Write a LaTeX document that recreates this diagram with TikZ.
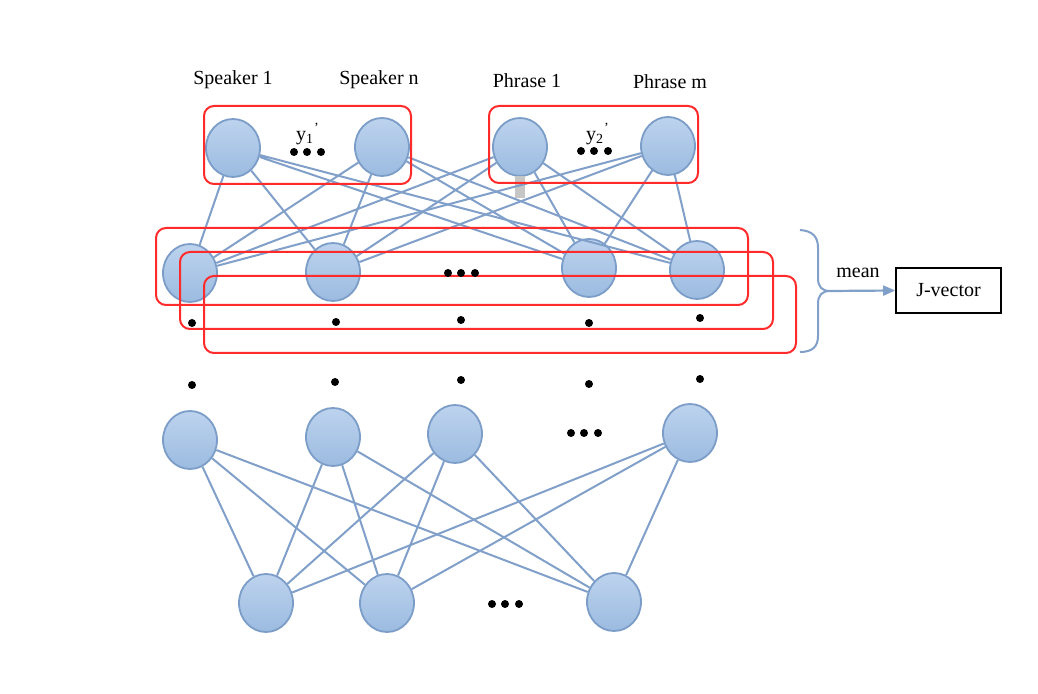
\documentclass[tikz,border=0pt]{standalone}
\usepackage{fontspec}
\setmainfont{Liberation Serif}
\usetikzlibrary{shapes.geometric,arrows.meta}
\definecolor{nodetop}{HTML}{BDD3EE}
\definecolor{nodebot}{HTML}{9BBBE0}
\definecolor{nodeline}{HTML}{7B9DC8}
\definecolor{linkblue}{HTML}{809FC9}
\definecolor{boxred}{HTML}{FF2A2A}

\begin{document}
\begin{tikzpicture}[x=0.5pt,y=-0.5pt,
  unit/.style={ellipse, draw=nodeline, line width=0.9pt, top color=nodetop, bottom color=nodebot, minimum width=27pt, minimum height=29pt, inner sep=0pt},
  link/.style={draw=linkblue, line width=1pt},
  group/.style={draw=boxred, line width=1pt, rounded corners=5pt},
  label/.style={font=\fontsize{10}{12}\selectfont, inner sep=1pt}]
\useasboundingbox (0,0) rectangle (1038,694);

% top layer
\node [unit] (S1) at (233,148) {};
\node [unit] (Sn) at (382,147) {};
\node [unit] (P1) at (520,147) {};
\node [unit] (Pm) at (668,146) {};

% hidden layer
\node [unit] (H1) at (190,273) {};
\node [unit] (H2) at (333,272) {};
\node [unit] (H3) at (589,268) {};
\node [unit] (H4) at (697,270) {};

% lower layers
\node [unit] (B1) at (190,440) {};
\node [unit] (B2) at (333,437) {};
\node [unit] (B3) at (455,434) {};
\node [unit] (B4) at (690,433) {};
\node [unit] (L1) at (266,603) {};
\node [unit] (L2) at (387,603) {};
\node [unit] (L3) at (614,602) {};

\fill [gray!45] (515,176) rectangle (525,198);

\draw [link] (S1)--(H1) (S1)--(H2) (S1)--(H3) (S1)--(H4);
\draw [link] (Sn)--(H1) (Sn)--(H2) (Sn)--(H3) (Sn)--(H4);
\draw [link] (P1)--(H1) (P1)--(H2) (P1)--(H3) (P1)--(H4);
\draw [link] (Pm)--(H1) (Pm)--(H2) (Pm)--(H3) (Pm)--(H4);
\draw [link] (B1)--(L1) (B1)--(L2) (B1)--(L3);
\draw [link] (B2)--(L1) (B2)--(L2) (B2)--(L3);
\draw [link] (B3)--(L1) (B3)--(L2) (B3)--(L3);
\draw [link] (B4)--(L1) (B4)--(L2) (B4)--(L3);

% groups
\draw [group] (204,106) rectangle (411,184);
\draw [group] (489,106) rectangle (698,183);
\draw [group] (156,228) rectangle (748,305);
\draw [group] (180,252) rectangle (773,329);
\draw [group] (204,276) rectangle (796,353);

% labels
\node [label] (T1) at (233,80) {Speaker 1};
\node [label] (T2) at (379,80) {Speaker n};
\node [label] (T3) at (527,81) {Phrase 1};
\node [label] (T4) at (670,82) {Phrase m};
\node [label] (Y1) at (308,134) {y\textsubscript{1}\textsuperscript{'}};
\node [label] (Y2) at (598,134) {y\textsubscript{2}\textsuperscript{'}};

% dots
\fill (294,152) circle [radius=4] (307,152) circle [radius=4] (321,152) circle [radius=4];
\fill (581,151) circle [radius=4] (594,151) circle [radius=4] (608,151) circle [radius=4];
\fill (448,273) circle [radius=4] (461,273) circle [radius=4] (475,273) circle [radius=4];
\fill (192,323) circle [radius=4] (336,322) circle [radius=4] (461,320) circle [radius=4] (589,323) circle [radius=4] (700,318) circle [radius=4];
\fill (192,385) circle [radius=4] (335,382) circle [radius=4] (461,380) circle [radius=4] (589,384) circle [radius=4] (700,379) circle [radius=4];
\fill (571,433) circle [radius=4] (584,433) circle [radius=4] (598,433) circle [radius=4];
\fill (492,604) circle [radius=4] (505,604) circle [radius=4] (519,604) circle [radius=4];

% brace and output
\coordinate (M) at (830,291);
\draw [linkblue, line width=1pt] (800,230) .. controls (812,231) and (818,236) .. (818,248)
  -- (818,278) .. controls (818,287) and (822,291) .. (M)
  .. controls (822,291) and (818,295) .. (818,304)
  -- (818,336) .. controls (818,347) and (812,352) .. (800,352);
\node [draw, line width=0.8pt, minimum width=52.5pt, minimum height=22.5pt, font=\fontsize{10}{12}\selectfont] (J) at (948.5,290.5) {J-vector};
\draw [linkblue, line width=1.1pt, -{Triangle[length=6pt,width=5pt]}] (M) -- (J.west);
\node [label] (mean) at (858,273) {mean};
\end{tikzpicture}
\end{document}
